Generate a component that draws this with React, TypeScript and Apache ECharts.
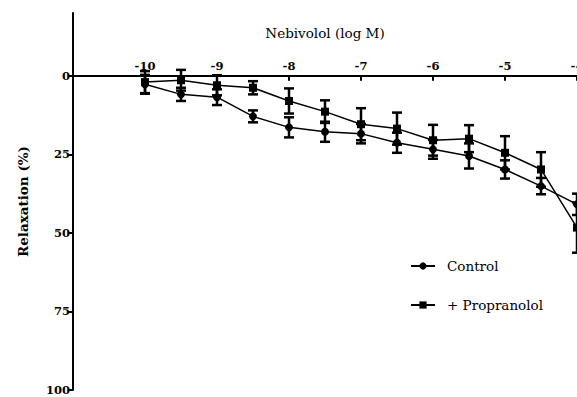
import React, { useEffect, useRef } from "react";
import * as echarts from "echarts";

const doses = [-10, -9.5, -9, -8.5, -8, -7.5, -7, -6.5, -6, -5.5, -5, -4.5, -4];
const control = [2.7, 5.9, 6.8, 12.9, 16.4, 17.8, 18.4, 21.3, 23.4, 25.5, 29.8, 35.1, 40.9];
const controlSem = [3.0, 2.1, 2.5, 1.9, 3.2, 3.2, 3.1, 3.2, 3.0, 4.0, 2.9, 2.6, 3.4];
const propranolol = [2.0, 1.4, 3.0, 3.8, 8.0, 11.4, 15.4, 16.8, 20.5, 20.0, 24.5, 29.8, 48.3];
const propranololSem = [3.5, 3.3, 3.2, 2.1, 4.0, 3.6, 5.1, 5.1, 4.9, 4.3, 5.3, 5.5, 8.0];
const xTickLabels = [-10, -9, -8, -7, -6, -5, -4];
const yTickValues = [0, 25, 50, 75, 100];

const SERIF = "DejaVu Serif";

function errorSeries(name: string, values: number[], sem: number[]) {
  return {
    type: "custom",
    name,
    clip: false,
    z: 2,
    data: doses.map((d, i) => [d, values[i], sem[i]]),
    renderItem: (params: any, api: any) => {
      const x = api.value(0);
      const y = api.value(1);
      const e = api.value(2);
      const top = api.coord([x, y - e]);
      const bot = api.coord([x, y + e]);
      const w = 5;
      const style = { stroke: "#000", lineWidth: 2.5 };
      return {
        type: "group",
        children: [
          { type: "line", shape: { x1: top[0], y1: top[1], x2: bot[0], y2: bot[1] }, style },
          { type: "line", shape: { x1: top[0] - w, y1: top[1], x2: top[0] + w, y2: top[1] }, style },
          { type: "line", shape: { x1: bot[0] - w, y1: bot[1], x2: bot[0] + w, y2: bot[1] }, style },
        ],
      };
    },
  };
}

export default function App() {
  const ref = useRef<HTMLDivElement>(null);
  useEffect(() => {
    if (!ref.current) return;
    const chart = echarts.init(ref.current, undefined, { renderer: "svg" });
    chart.setOption({
      animation: false,
      backgroundColor: "#fff",
      grid: { left: 73, right: 0, top: 13, bottom: 7, containLabel: false, outerBoundsMode: "none" },
      legend: {
        data: ["Control", "+ Propranolol"],
        orient: "vertical",
        left: 410,
        top: 259,
        itemGap: 25,
        itemWidth: 24,
        itemHeight: 9,
        padding: 0,
        textStyle: { fontFamily: SERIF, fontSize: 13.5, color: "#000", padding: [0, 0, 0, 7] },
      },
      xAxis: {
        type: "value",
        position: "top",
        offset: -62.8,
        min: -11,
        max: -4,
        interval: 1,
        name: "Nebivolol (log M)",
        nameLocation: "middle",
        nameGap: 36,
        nameTextStyle: { fontFamily: SERIF, fontSize: 13.5, color: "#000" },
        axisLine: { onZero: false, lineStyle: { color: "#000", width: 2 } },
        axisTick: { inside: true, length: 5, lineStyle: { color: "#000", width: 2 }, customValues: xTickLabels },
        axisLabel: {
          customValues: xTickLabels,
          fontFamily: SERIF,
          fontSize: 11.5,
          fontWeight: "bold",
          color: "#000",
          margin: 4,
          formatter: (v: number) => String(v),
        },
        splitLine: { show: false },
      },
      yAxis: {
        type: "value",
        inverse: true,
        min: -20,
        max: 100,
        name: "Relaxation (%)",
        nameLocation: "middle",
        nameGap: 43,
        nameTextStyle: { fontFamily: SERIF, fontSize: 13.5, fontWeight: "bold", color: "#000" },
        axisLine: { show: true, onZero: false, lineStyle: { color: "#000", width: 2 } },
        axisTick: { show: true, length: 5, lineStyle: { color: "#000", width: 2 }, customValues: yTickValues },
        axisLabel: {
          customValues: yTickValues,
          fontFamily: SERIF,
          fontSize: 11.5,
          fontWeight: "bold",
          color: "#000",
          margin: 3,
        },
        splitLine: { show: false },
      },
      series: [
        errorSeries("controlErr", control, controlSem),
        errorSeries("propErr", propranolol, propranololSem),
        {
          type: "line",
          name: "Control",
          data: doses.map((d, i) => [d, control[i]]),
          symbol: "circle",
          symbolSize: 8,
          clip: false,
          z: 3,
          lineStyle: { color: "#000", width: 1.5 },
          itemStyle: { color: "#000" },
        },
        {
          type: "line",
          name: "+ Propranolol",
          data: doses.map((d, i) => [d, propranolol[i]]),
          symbol: "rect",
          symbolSize: 8,
          clip: false,
          z: 3,
          lineStyle: { color: "#000", width: 1.5 },
          itemStyle: { color: "#000" },
        },
      ],
    });
    return () => chart.dispose();
  }, []);
  return (
    <div
      ref={ref}
      style={{ position: "fixed", left: 0, top: 0, width: 577, height: 397 }}
    />
  );
}
